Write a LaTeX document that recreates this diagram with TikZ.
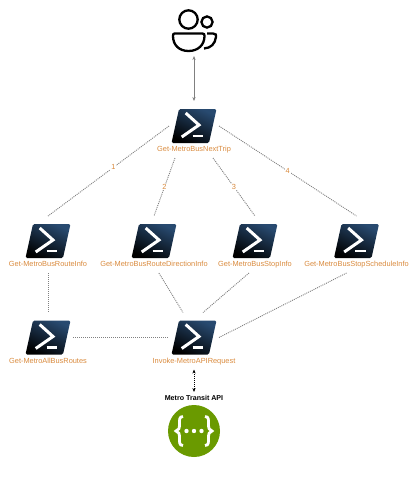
\documentclass[tikz,border=0pt]{standalone}
\usepackage{fontspec}
\setmainfont{Liberation Sans}
\usepackage{xcolor}
\usetikzlibrary{arrows.meta, positioning}

\definecolor{cmdorange}{HTML}{D98A3D}
\definecolor{psblue}{HTML}{284A70}
\definecolor{psmid}{HTML}{12202F}
\definecolor{apigreen}{HTML}{6A9A00}
\definecolor{linkgray}{HTML}{808080}

\newcommand{\psglyph}{%
  \begin{scope}[shift={(path picture bounding box.center)}, x=1pt, y=1pt]
    \shade[left color=psblue, middle color=psmid, right color=black, shading angle=-25, rounded corners=1.5pt]
      (-15,17) -- (22.5,17) -- (15,-17) -- (-22.5,-17) -- cycle;
    \draw[white, line width=3pt] (-8.3,13) -- (5,1) -- (-12.3,-11);
    \draw[white, line width=2.4pt] (-1.3,-10) -- (9.3,-10);
  \end{scope}}

\newcommand{\usersglyph}{%
  \begin{scope}[shift={(path picture bounding box.center)}, x=1pt, y=1pt, line width=2.3pt, black]
    \draw (-5.5,11.5) circle (9.2);
    \draw (13,9) circle (5.6);
    \draw (-19.5,-2.5) -- (8.5,-2.5) .. controls (10,-2.5) and (10.5,-3.5) .. (10.5,-5)
      .. controls (10.5,-14) and (4,-20) .. (-5.5,-20)
      .. controls (-15,-20) and (-21,-14) .. (-21,-5)
      .. controls (-21,-3.5) and (-20.5,-2.5) .. (-19.5,-2.5) -- cycle;
    \draw (13,-2.5) -- (19,-2.5) .. controls (22,-2.5) and (22.5,-4) .. (22,-6)
      .. controls (21,-13) and (17,-17) .. (10,-17.5);
  \end{scope}}

\newcommand{\apiglyph}{%
  \begin{scope}[shift={(path picture bounding box.center)}, x=1pt, y=1pt, white]
    \draw[line width=2.8pt] (-11,14.5) .. controls (-15,14.5) and (-14.5,11) .. (-14.5,7)
      .. controls (-14.5,3) and (-15,0.5) .. (-18,0)
      .. controls (-15,-0.5) and (-14.5,-3) .. (-14.5,-7)
      .. controls (-14.5,-11) and (-15,-14.5) .. (-11,-14.5);
    \draw[line width=2.8pt] (11,14.5) .. controls (15,14.5) and (14.5,11) .. (14.5,7)
      .. controls (14.5,3) and (15,0.5) .. (18,0)
      .. controls (15,-0.5) and (14.5,-3) .. (14.5,-7)
      .. controls (14.5,-11) and (15,-14.5) .. (11,-14.5);
    \foreach \dotx in {-7.5,0,7.5} \fill (\dotx,0) circle (2.2);
  \end{scope}}

\begin{document}
\begin{tikzpicture}[
    x=1pt, y=1pt,
    on grid,
    iconbox/.style={rectangle, minimum size=50pt, inner sep=0pt, outer sep=0pt},
    cmd/.style={iconbox, path picture={\psglyph}},
    users/.style={iconbox, path picture={\usersglyph}},
    api/.style={circle, fill=apigreen, minimum size=52pt, inner sep=0pt, outer sep=0pt, path picture={\apiglyph}},
    cmdlabel/.style={text=cmdorange, font=\fontsize{7.4}{9}\selectfont, text height=5.4pt, text depth=1.6pt, minimum height=16pt, inner sep=0pt, outer sep=0pt},
    apilabel/.style={text=black, font=\fontsize{7.1}{9}\selectfont\bfseries, text height=5.4pt, text depth=1.6pt, minimum height=14pt, inner sep=0pt, outer sep=0pt},
    link/.style={linkgray, dash pattern=on 1pt off 1pt, line width=0.9pt},
    callarrow/.style={{Stealth[length=4pt,width=3.2pt]}-{Stealth[length=4pt,width=3.2pt]}, line width=0.7pt},
    num/.style={text=cmdorange, fill=white, font=\fontsize{7.4}{9}\selectfont, inner sep=0.8pt}
]
\useasboundingbox (0,0) rectangle (419,-477);

\node[cmd] (nexttrip) at (194,-126) {};
\node[users, above=95pt of nexttrip] (users) {};
\node[cmdlabel, below=24pt of nexttrip] (nexttriplabel) {Get-MetroBusNextTrip};

\node[cmd, below left=115pt and 146pt of nexttrip] (routeinfo) {};
\node[cmd, below left=115pt and 40pt of nexttrip] (direction) {};
\node[cmd, below right=115pt and 61pt of nexttrip] (stopinfo) {};
\node[cmd, below right=115pt and 162.5pt of nexttrip] (schedule) {};
\node[cmdlabel, below=24pt of routeinfo] (routeinfolabel) {Get-MetroBusRouteInfo};
\node[cmdlabel, below=24pt of direction] (directionlabel) {Get-MetroBusRouteDirectionInfo};
\node[cmdlabel, below=24pt of stopinfo] (stopinfolabel) {Get-MetroBusStopInfo};
\node[cmdlabel, below=24pt of schedule] (schedulelabel) {Get-MetroBusStopScheduleInfo};

\node[cmd, below=96.5pt of routeinfo] (allroutes) {};
\node[cmd, below=211.5pt of nexttrip] (request) {};
\node[cmdlabel, below=24pt of allroutes] (allrouteslabel) {Get-MetroAllBusRoutes};
\node[cmdlabel, below=24pt of request] (requestlabel) {Invoke-MetroAPIRequest};

\node[apilabel, below=37.5pt of requestlabel] (apilabel) {Metro Transit API};
\node[api, below=32pt of apilabel] (metroapi) {};

\draw[callarrow, linkgray] (users) -- (nexttrip);
\draw[link] (nexttrip.west) -- node[num, pos=.46] {1} (routeinfo.north);
\draw[link] ([xshift=-19pt]nexttriplabel.south) -- node[num] {2} (direction.north);
\draw[link] ([xshift=19pt]nexttriplabel.south) -- node[num] {3} (stopinfo.north);
\draw[link] (nexttrip.east) -- node[num] {4} (schedule.north);

\draw[link] (routeinfolabel) -- (allroutes);
\draw[link] (directionlabel) -- ([xshift=-11pt]request.north);
\draw[link] ([xshift=-6pt]stopinfolabel.south) -- ([xshift=9pt]request.north);
\draw[link] ([xshift=-10pt]schedulelabel.south) -- (request.east);
\draw[link] (allroutes) -- (request);
\draw[callarrow, black, dash pattern=on 1pt off 1pt, line width=0.6pt] (requestlabel) -- (apilabel);

\end{tikzpicture}
\end{document}
